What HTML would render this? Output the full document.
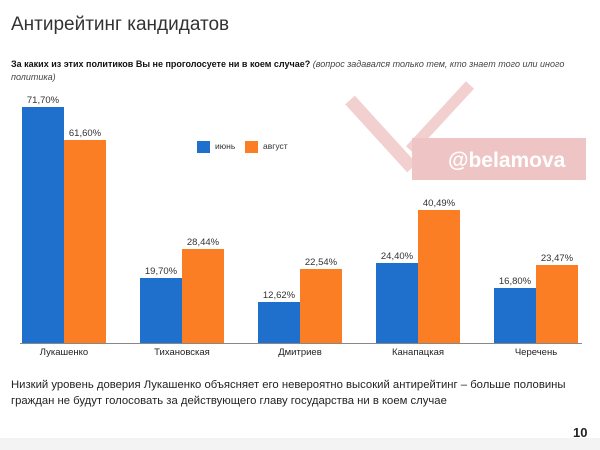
<!DOCTYPE html><html><head><meta charset="utf-8"><style>
body{margin:0;width:600px;height:450px;background:#fff;font-family:"Liberation Sans","DejaVu Sans",sans-serif;position:relative;overflow:hidden}
.a{position:absolute;white-space:nowrap}
.b{position:absolute;width:42px}
.bl{background:#1f6fcd}.or{background:#fb7e24}
.v{position:absolute;font-size:9.5px;color:#333;width:42px;text-align:center}
.c{position:absolute;font-size:9.5px;color:#222;width:118px;text-align:center;top:347px}
</style></head><body>
<svg class="a" style="left:0;top:0" width="600" height="450">
<line x1="350" y1="100" x2="412" y2="168" stroke="#f3d0d0" stroke-width="13"/>
<line x1="470" y1="85" x2="410" y2="150" stroke="#f3d0d0" stroke-width="11"/>
<rect x="412" y="138" width="174" height="42" fill="#eec4c4"/>
<text x="448" y="167" font-family="Liberation Sans" font-weight="bold" font-size="21" fill="#fff">@belamova</text>
<rect x="0" y="438" width="600" height="12" fill="#f3f3f3"/>
</svg>
<div class="a" style="left:11px;top:14px;font-size:19px;color:#333">Антирейтинг кандидатов</div>
<div class="a" style="left:11px;top:58px;font-size:9px;color:#111;white-space:normal;width:578px;line-height:13px"><b>За каких из этих политиков Вы не проголосуете ни в коем случае?</b> <i style="color:#444">(вопрос задавался только тем, кто знает того или иного политика)</i></div>
<div class="a" style="left:197px;top:141px;width:13px;height:12px;background:#1f6fcd"></div>
<div class="a" style="left:215px;top:141px;font-size:8.5px;color:#333">июнь</div>
<div class="a" style="left:245px;top:141px;width:13px;height:12px;background:#fb7e24"></div>
<div class="a" style="left:263px;top:141px;font-size:8.5px;color:#333">август</div>

<div class="b bl" style="left:22px;top:107px;height:236px"></div><div class="v" style="left:22px;top:95px">71,70%</div>
<div class="b or" style="left:64px;top:140px;height:203px"></div><div class="v" style="left:64px;top:128px">61,60%</div>
<div class="b bl" style="left:140px;top:278px;height:65px"></div><div class="v" style="left:140px;top:266px">19,70%</div>
<div class="b or" style="left:182px;top:249px;height:94px"></div><div class="v" style="left:182px;top:237px">28,44%</div>
<div class="b bl" style="left:258px;top:302px;height:41px"></div><div class="v" style="left:258px;top:290px">12,62%</div>
<div class="b or" style="left:300px;top:269px;height:74px"></div><div class="v" style="left:300px;top:257px">22,54%</div>
<div class="b bl" style="left:376px;top:263px;height:80px"></div><div class="v" style="left:376px;top:251px">24,40%</div>
<div class="b or" style="left:418px;top:210px;height:133px"></div><div class="v" style="left:418px;top:198px">40,49%</div>
<div class="b bl" style="left:494px;top:288px;height:55px"></div><div class="v" style="left:494px;top:276px">16,80%</div>
<div class="b or" style="left:536px;top:265px;height:78px"></div><div class="v" style="left:536px;top:253px">23,47%</div>
<div class="a" style="left:20px;top:343px;width:562px;height:1px;background:#888"></div>
<div class="c" style="left:5px">Лукашенко</div>
<div class="c" style="left:123px">Тихановская</div>
<div class="c" style="left:241px">Дмитриев</div>
<div class="c" style="left:359px">Канапацкая</div>
<div class="c" style="left:477px">Черечень</div>
<div class="a" style="left:11px;top:377px;font-size:11.3px;color:#222;line-height:16px">Низкий уровень доверия Лукашенко объясняет его невероятно высокий антирейтинг – больше половины<br>граждан не будут голосовать за действующего главу государства ни в коем случае</div>
<div class="a" style="left:573px;top:425px;font-size:13px;font-weight:bold;color:#222">10</div>
</body></html>
